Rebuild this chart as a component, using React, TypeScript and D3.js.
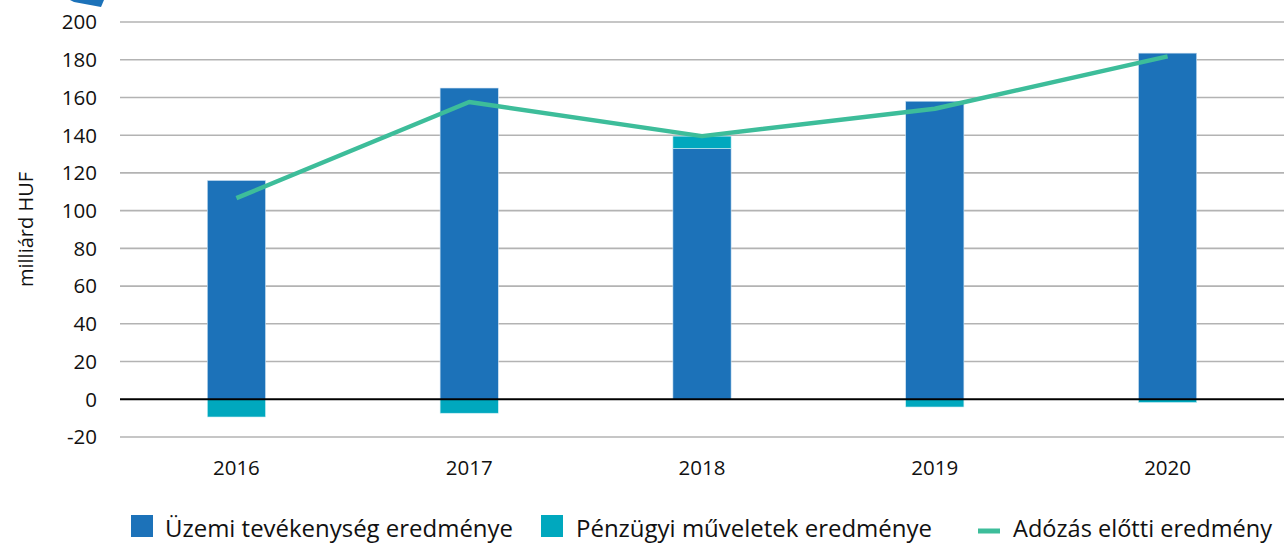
import React from "react";
import * as d3 from "d3";

const years = ["2016", "2017", "2018", "2019", "2020"];
const uzemi = [116, 165, 133, 158, 183.5];
const penzugyi = [-9.4, -7.4, 6.5, -4.1, -1.7];
const adozas = [106.6, 157.6, 139.5, 154, 181.8];
const yTicks = [-20, 0, 20, 40, 60, 80, 100, 120, 140, 160, 180, 200];

const W = 1287;
const H = 545;
const FONT = "'Open Sans', sans-serif";
const BLUE = "#1c72b9";
const TEAL = "#00a8be";
const GREEN = "#3dbd9a";

export default function App() {
  const x = d3.scaleBand<string>().domain(years).range([120, 1284]).paddingInner(0.75).paddingOuter(0.375);
  const y = d3.scaleLinear().domain([-20, 200]).range([437, 22]);
  const line = d3
    .line<number>()
    .x((_, i) => (x(years[i]) as number) + x.bandwidth() / 2)
    .y((d) => y(d));

  return (
    <svg width={W} height={H} style={{ position: "absolute", left: 0, top: 0, background: "#fff" }}>
      <polygon points="70,0 104,0 101,7 74,2" fill={BLUE} />
      {yTicks.map((t) => (
        <g key={t}>
          {t !== 0 && <line x1={120} x2={1284} y1={y(t)} y2={y(t)} stroke="#b3b3b3" strokeWidth={1.6} />}
          <text x={97} y={y(t)} dy="0.36em" textAnchor="end" fontFamily={FONT} fontSize={20.5} fill="#111">
            {t}
          </text>
        </g>
      ))}
      <text
        transform={`translate(33,${y(90)}) rotate(-90)`}
        textAnchor="middle"
        fontFamily={FONT}
        fontSize={20}
        fill="#111"
      >
        milliárd HUF
      </text>
      {years.map((yr, i) => {
        const bx = x(yr) as number;
        const bw = x.bandwidth();
        const u = uzemi[i];
        const p = penzugyi[i];
        const pTop = p >= 0 ? y(u + p) : y(0);
        const pBot = p >= 0 ? y(u) : y(p);
        return (
          <g key={yr}>
            <rect x={bx} y={y(u)} width={bw} height={y(0) - y(u)} fill={BLUE} stroke="#cfe3f2" strokeWidth={0.6} />
            <rect x={bx} y={pTop} width={bw} height={pBot - pTop} fill={TEAL} stroke="#cfeef3" strokeWidth={0.6} />
            <text x={bx + bw / 2} y={475} textAnchor="middle" fontFamily={FONT} fontSize={20.5} fill="#111">
              {yr}
            </text>
          </g>
        );
      })}
      <line x1={120} x2={1284} y1={y(0)} y2={y(0)} stroke="#000" strokeWidth={1.8} />
      <path d={line(adozas) || ""} fill="none" stroke={GREEN} strokeWidth={4.5} strokeLinejoin="round" />
      <rect x={131} y={515} width={22} height={22} fill={BLUE} />
      <text x={165} y={537} fontFamily={FONT} fontSize={24} textLength={348} lengthAdjust="spacingAndGlyphs" fill="#111">Üzemi tevékenység eredménye</text>
      <rect x={541} y={515} width={22} height={22} fill={TEAL} />
      <text x={576} y={537} fontFamily={FONT} fontSize={24} textLength={356} lengthAdjust="spacingAndGlyphs" fill="#111">Pénzügyi műveletek eredménye</text>
      <line x1={978} x2={1000} y1={531} y2={531} stroke={GREEN} strokeWidth={5} />
      <text x={1013} y={537} fontFamily={FONT} fontSize={24} textLength={259} lengthAdjust="spacingAndGlyphs" fill="#111">Adózás előtti eredmény</text>
    </svg>
  );
}
